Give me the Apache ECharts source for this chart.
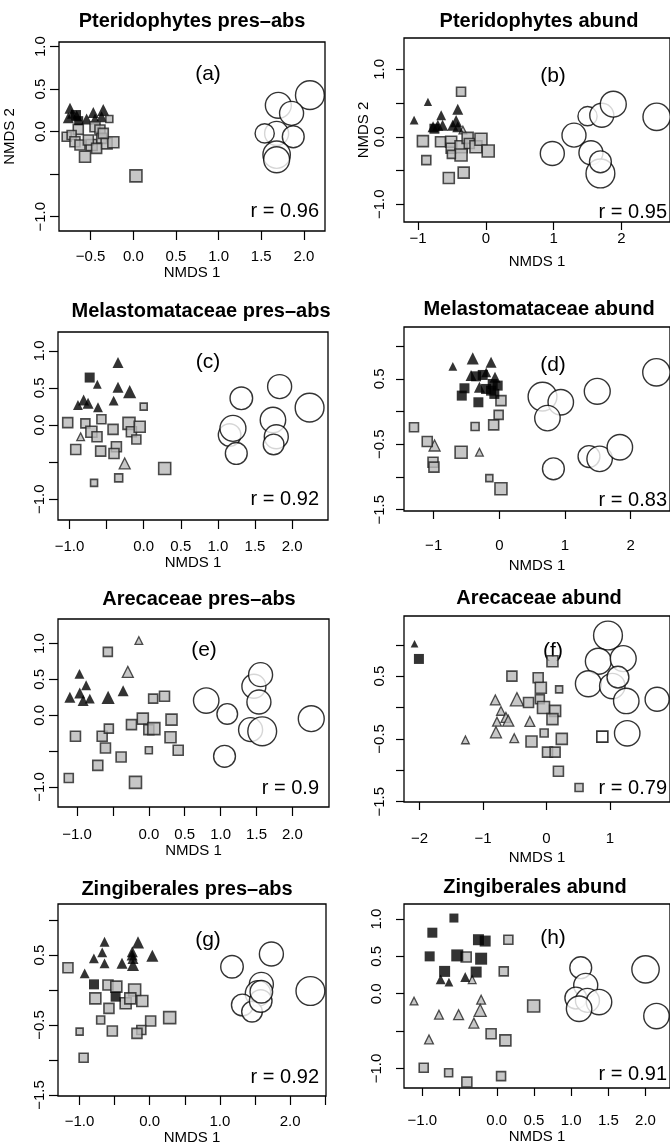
<!DOCTYPE html>
<html><head><meta charset="utf-8">
<script src="https://cdn.jsdelivr.net/npm/echarts@6/dist/echarts.min.js"></script>
<style>html,body{margin:0;padding:0;background:#fff;overflow:hidden}#c{width:670px;height:1147px}</style>
</head><body><div id="c"></div>
<script>
// ---------- DATA: [NMDS1, NMDS2, relative weight] ----------
// (a) Pteridophytes pres-abs
const a_triBlack = [[-0.742,0.275,1],[-0.469,0.227,1],[-0.352,0.255,1.1],[-0.762,0.165,1],[-0.664,0.188,1],[-0.547,0.149,1],[-0.449,0.149,1],[-0.371,0.176,1],[-0.72,0.21,0.9]];
const a_triGray = [];
const a_sqBlack = [[-0.672,0.196,1],[-0.64,0.13,0.9]];
const a_sqGray = [[-0.281,0.149,0.7],[-0.645,0.027,1],[-0.449,0.059,1],[-0.781,-0.059,0.9],[-0.723,-0.039,0.9],[-0.684,-0.118,1],[-0.625,-0.157,1],[-0.488,-0.157,1.1],[-0.527,-0.098,1],[-0.391,0.02,1],[-0.371,-0.078,1],[-0.313,-0.137,1.1],[-0.234,-0.125,1.1],[-0.566,-0.294,1.1],[-0.352,-0.02,1],[-0.43,-0.196,1],[0.031,-0.52,1.2]];
const a_sqOpen = [];
const a_circ = [[2.07,0.43,1.2],[1.70,0.31,1.08],[1.855,0.216,1.0],[1.68,-0.02,1.0],[1.54,-0.02,0.8],[1.875,-0.06,0.91],[1.68,-0.27,1.14],[1.68,-0.33,1.08]];

// (b) Pteridophytes abund
const b_triBlack = [[-0.856,0.519,0.75],[-1.06,0.247,0.8],[-0.66,0.32,0.9],[-0.416,0.41,1],[-0.44,0.232,1.1],[-0.78,0.148,1],[-0.71,0.17,1],[-0.64,0.17,1],[-0.49,0.17,1],[-0.416,0.148,1]];
const b_triGray = [[-0.34,0.1,0.7]];
const b_sqBlack = [[-0.76,0.12,1]];
const b_sqGray = [[-0.367,0.667,0.9],[-0.93,-0.064,1.1],[-0.67,-0.074,1],[-0.513,-0.074,1.1],[-0.513,-0.17,1],[-0.367,-0.148,1.2],[-0.27,-0.015,1.1],[-0.245,-0.1,1],[-0.147,-0.148,1.2],[-0.073,-0.035,1.2],[0.034,-0.21,1.2],[-0.367,-0.27,1.2],[-0.51,-0.26,0.8],[-0.88,-0.346,0.9],[-0.548,-0.61,1.1],[-0.328,-0.53,1.1]];
const b_sqOpen = [];
const b_circ = [[0.98,-0.247,1],[1.30,0.025,1],[1.50,0.306,0.8],[1.71,0.32,1],[1.88,0.484,1.08],[1.55,-0.237,1],[1.69,-0.543,1.2],[1.69,-0.37,0.91],[2.52,0.296,1.14]];

// (c) Melastomataceae pres-abs
const c_triBlack = [[-0.346,0.842,1],[-0.625,0.55,0.8],[-0.346,0.509,1],[-0.189,0.45,1.2],[-0.81,0.338,1],[-0.886,0.27,0.9],[-0.75,0.293,1],[-0.616,0.239,0.9],[-0.405,0.329,0.9]];
const c_triGray = [[-0.85,-0.158,0.7],[-0.256,-0.518,1]];
const c_sqBlack = [[-0.728,0.64,1]];
const c_sqGray = [[0.0,0.248,0.7],[-1.024,0.032,1],[-0.786,0.023,0.9],[-0.57,0.077,0.9],[-0.705,-0.09,1.1],[-0.629,-0.158,1],[-0.413,-0.059,1],[-0.198,0.023,1.2],[-0.166,-0.09,1],[-0.054,-0.023,1.1],[-0.099,-0.194,0.9],[-0.916,-0.329,1],[-0.58,-0.351,1],[-0.368,-0.293,1],[-0.4,-0.383,1],[0.283,-0.586,1.2],[-0.669,-0.78,0.7],[-0.337,-0.712,0.8]];
const c_sqOpen = [];
const c_circ = [[1.316,0.36,0.94],[1.832,0.518,1],[2.236,0.234,1.2],[1.742,0.068,1.06],[1.158,-0.135,0.94],[1.203,-0.045,1.08],[1.248,-0.383,0.91],[1.787,-0.158,1],[1.751,-0.261,0.86]];

// (d) Melastomataceae abund
const d_triBlack = [[-0.708,0.692,0.8],[-0.405,0.814,1.1],[-0.126,0.753,1],[-0.43,0.55,1],[-0.303,0.372,1],[-0.066,0.524,1],[-0.2,0.6,0.9]];
const d_triGray = [[-0.986,-0.519,1],[-0.303,-0.621,0.7]];
const d_sqBlack = [[-0.253,0.56,1],[-0.354,0.539,1],[-0.531,0.356,1],[-0.572,0.244,1],[-0.319,0.142,1],[-0.101,0.422,1],[-0.025,0.397,1],[-0.126,0.32,1],[-0.076,0.27,1],[-0.202,0.346,1]];
const d_sqGray = [[0.025,0.168,1],[-0.01,-0.05,0.9],[-0.086,-0.204,1],[-0.369,-0.229,0.8],[-1.3,-0.239,0.9],[-1.098,-0.458,1],[-0.582,-0.621,1.2],[-1.01,-0.774,1],[-0.996,-0.85,1],[-0.152,-1.018,0.7],[0.025,-1.18,1.2]];
const d_sqOpen = [];
const d_circ = [[0.658,0.229,1.2],[0.936,0.142,1.06],[0.733,-0.1,1.06],[1.492,0.31,1.08],[2.393,0.6,1.14],[0.824,-0.875,0.91],[1.366,-0.687,0.91],[1.528,-0.723,1.06],[1.836,-0.545,1.06]];

// (e) Arecaceae pres-abs
const e_triBlack = [[-0.966,0.577,0.9],[-0.873,0.419,0.9],[-0.962,0.312,1],[-1.1,0.251,1],[-0.915,0.205,1],[-0.822,0.233,0.9],[-0.567,0.251,1.2],[-0.358,0.344,1]];
const e_triGray = [[-0.139,1.042,0.7],[-0.293,0.605,1]];
const e_sqBlack = [];
const e_sqGray = [[-0.571,0.884,0.9],[0.06,0.233,0.9],[0.218,0.265,1],[-0.084,-0.047,1.1],[-0.242,-0.13,1],[0,-0.2,1],[0.07,-0.186,1.2],[0.316,-0.06,1.1],[0.302,-0.307,1.1],[0.409,-0.488,1],[0,-0.488,0.7],[-1.022,-0.293,1],[-0.65,-0.293,1],[-0.557,-0.186,0.9],[-0.604,-0.456,1],[-0.386,-0.581,1],[-0.711,-0.698,1],[-1.115,-0.874,0.9],[-0.186,-0.935,1.2]];
const e_sqOpen = [];
const e_circ = [[0.799,0.205,1.06],[1.092,0.019,0.86],[1.463,0.405,1],[1.556,0.567,1],[1.533,0.186,1],[1.417,-0.2,1],[1.579,-0.223,1.2],[1.054,-0.572,0.91],[2.262,-0.047,1.08]];

// (f) Arecaceae abund
const f_triBlack = [[-2.079,1.016,0.7]];
const f_triGray = [[-0.806,0.121,0.9],[-0.466,0.132,1.2],[-0.717,-0.053,0.8],[-0.78,-0.226,0.8],[-0.639,-0.158,0.9],[-0.602,-0.21,1],[-0.796,-0.395,1],[-0.508,-0.489,0.8],[-0.262,-0.221,0.9],[-1.277,-0.516,0.7]];
const f_sqBlack = [[-2.01,0.774,1]];
const f_sqGray = [[0.094,0.737,1.1],[-0.545,0.5,1],[-0.131,0.474,1],[-0.089,0.316,1.1],[0.199,0.289,0.7],[-0.105,0.132,0.9],[-0.283,0.079,1],[-0.047,0,1.2],[0.136,-0.053,1.1],[0.094,-0.184,1.1],[-0.037,-0.405,0.8],[-0.236,-0.542,1.1],[0.241,-0.5,1.1],[0.016,-0.711,1],[0.136,-0.711,1],[0.188,-1.016,1],[0.513,-1.274,0.8]];
const f_sqOpen = [[0.88,-0.463,1.1]];
const f_circ = [[0.969,1.147,1.2],[0.817,0.737,1.08],[1.209,0.779,1.08],[0.66,0.379,1.08],[1.037,0.342,1.06],[1.126,0.484,0.91],[1.257,0.105,1.06],[1.743,0.132,1],[1.272,-0.411,1.06]];

// (g) Zingiberales pres-abs
const g_triBlack = [[-0.643,0.69,0.9],[-0.676,0.538,0.9],[-0.795,0.452,0.9],[-0.643,0.381,0.9],[-0.926,0.238,0.9],[-0.394,0.381,1],[-0.166,0.681,1.1],[-0.247,0.548,1],[-0.25,0.5,1],[-0.238,0.452,1],[-0.238,0.357,1.1],[0.038,0.49,1.1]];
const g_triGray = [];
const g_sqBlack = [[-0.793,0.081,1],[-0.485,-0.095,1]];
const g_sqGray = [[-1.164,0.319,1],[-0.594,0.071,1],[-0.475,0.048,1.1],[-0.214,0,1.2],[-0.774,-0.119,1.1],[-0.342,-0.19,1.1],[-0.276,-0.119,1.1],[-0.105,-0.157,1.1],[-0.58,-0.262,1],[-0.698,-0.429,0.8],[-0.532,-0.586,1],[0.014,-0.443,1],[0.285,-0.395,1.2],[-0.119,-0.571,0.9],[-0.181,-0.619,1],[-0.998,-0.595,0.7],[-0.941,-0.967,0.9]];
const g_sqOpen = [];
const g_circ = [[1.173,0.333,0.94],[1.734,0.514,1],[1.591,0.081,1],[1.544,-0.048,1.06],[1.321,-0.214,0.91],[1.458,-0.31,0.86],[1.582,-0.157,0.94],[1.591,-0.024,0.94],[2.29,-0.014,1.2]];

// (h) Zingiberales abund
const h_triBlack = [[-0.754,0.192,0.9],[-0.643,0.156,0.8],[-0.424,0.223,0.9]];
const h_triGray = [[-1.112,-0.098,0.7],[-0.21,-0.08,0.8],[-0.33,0.188,0.7],[-0.777,-0.281,0.8],[-0.513,-0.281,0.9],[-0.223,-0.223,1.1],[-0.308,-0.393,0.9],[-0.911,-0.612,0.8]];
const h_sqBlack = [[-0.576,1.013,0.9],[-0.866,0.817,1],[-0.902,0.5,1],[-0.531,0.513,1.2],[-0.246,0.723,1.1],[-0.156,0.705,1.1],[-0.21,0.469,1.2],[-0.701,0.299,1.1],[-0.277,0.29,1.1]];
const h_sqGray = [[-0.411,0.491,1],[0.156,0.723,0.9],[0.094,0.299,0.9],[0.496,-0.165,1.2],[-0.076,-0.536,1],[0.116,-0.625,1.1],[-0.982,-0.991,0.9],[-0.647,-1.058,0.8],[-0.402,-1.183,1],[0.058,-1.103,0.9]];
const h_sqOpen = [];
const h_circ = [[1.129,0.348,0.91],[2.0,0.326,1.14],[1.196,0.112,1],[1.063,-0.058,0.91],[1.219,-0.089,1],[1.375,-0.112,1.06],[1.107,-0.201,1.06],[2.147,-0.299,1.06]];

// ---------- TEXT / TICKS ----------
const panelTitles = ['Pteridophytes pres\u2013abs','Pteridophytes abund','Melastomataceae pres\u2013abs','Melastomataceae abund','Arecaceae pres\u2013abs','Arecaceae abund','Zingiberales pres\u2013abs','Zingiberales abund'];
const panelLetters = ['(a)','(b)','(c)','(d)','(e)','(f)','(g)','(h)'];
const rValues = ['0.96','0.95','0.92','0.83','0.9','0.79','0.92','0.91'];
const xTicks = [[-0.5,0,0.5,1,1.5,2],[-1,0,1,2],[-1,-0.5,0,0.5,1,1.5,2],[-1,0,1,2],[-1,-0.5,0,0.5,1,1.5,2],[-2,-1,0,1],[-1,-0.5,0,0.5,1,1.5,2,2.5],[-1,-0.5,0,0.5,1,1.5,2]];
const xTickLabels = [[-0.5,0,0.5,1,1.5,2],[-1,0,1,2],[-1,0,0.5,1,1.5,2],[-1,0,1,2],[-1,0,0.5,1,1.5,2],[-2,-1,0,1],[-1,0,1,2],[-1,0,0.5,1,1.5,2]];
const yTicks = [[-1,-0.5,0,0.5,1],[-1,-0.5,0,0.5,1],[-1,-0.5,0,0.5,1],[-1.5,-1,-0.5,0,0.5,1],[-1,-0.5,0,0.5,1],[-1.5,-1,-0.5,0,0.5,1],[-1.5,-1,-0.5,0,0.5,1],[-1,-0.5,0,0.5,1]];
const yTickLabels = [[-1,0,0.5,1],[-1,0,1],[-1,0,0.5,1],[-1.5,-0.5,0.5],[-1,0,0.5,1],[-1.5,-0.5,0.5],[-1.5,-0.5,0.5],[-1,0,0.5,1]];
const xIntegerLabels = [false,true,false,true,false,true,false,false];
const yAxisNames = ['NMDS 2','NMDS 2','','','','','',''];
const xAxisName = 'NMDS 1';

const panelData = [
  [a_triGray,a_triBlack,a_sqGray,a_sqBlack,a_sqOpen,a_circ],
  [b_triGray,b_triBlack,b_sqGray,b_sqBlack,b_sqOpen,b_circ],
  [c_triGray,c_triBlack,c_sqGray,c_sqBlack,c_sqOpen,c_circ],
  [d_triGray,d_triBlack,d_sqGray,d_sqBlack,d_sqOpen,d_circ],
  [e_triGray,e_triBlack,e_sqGray,e_sqBlack,e_sqOpen,e_circ],
  [f_triGray,f_triBlack,f_sqGray,f_sqBlack,f_sqOpen,f_circ],
  [g_triGray,g_triBlack,g_sqGray,g_sqBlack,g_sqOpen,g_circ],
  [h_triGray,h_triBlack,h_sqGray,h_sqBlack,h_sqOpen,h_circ]
];

// ---------- LAYOUT (pixels / axis extents) ----------
const layout = [
  {l:59, t:42, w:266,h:189, xr:[-0.871,2.247], yr:[-1.168,1.055], xm:18, xn:32, ym:11, yn:42, tk:9, title:[192,21], letter:[208,74], r:[319,211]},
  {l:404,t:38, w:267,h:184, xr:[-1.209,2.717], yr:[-1.262,1.464], xm:9,  xn:32, ym:17, yn:32, tk:8, title:[539,21], letter:[553,76], r:[667,212]},
  {l:58, t:332,w:270,h:188, xr:[-1.155,2.484], yr:[-1.28,1.254],  xm:19, xn:32, ym:11, yn:42, tk:9, title:[201,311], letter:[208,362], r:[319,499]},
  {l:404,t:327,w:267,h:184, xr:[-1.452,2.6],   yr:[-1.52,1.293],  xm:27, xn:47, ym:17, yn:32, tk:8, title:[539,309], letter:[553,365], r:[667,500]},
  {l:58, t:619,w:271,h:188, xr:[-1.265,2.509], yr:[-1.279,1.343], xm:20, xn:33, ym:11, yn:42, tk:9, title:[199,599], letter:[204,650], r:[319,788]},
  {l:404,t:616,w:267,h:186, xr:[-2.245,1.946], yr:[-1.505,1.458], xm:29, xn:48, ym:17, yn:32, tk:8, title:[539,598], letter:[553,651], r:[667,788]},
  {l:58, t:904,w:268,h:192, xr:[-1.306,2.512], yr:[-1.514,1.229], xm:18, xn:33, ym:11, yn:42, tk:9, title:[187,889], letter:[208,940], r:[319,1077]},
  {l:404,t:904,w:267,h:184, xr:[-1.247,2.329], yr:[-1.262,1.201], xm:25, xn:38, ym:20, yn:32, tk:8, title:[535,887], letter:[553,938], r:[667,1074]}
];

const FONT = '"Liberation Sans", Arial, Helvetica, sans-serif';
const GRAY = '#b9b9b9';
const EDGE = '#222';
const BASE = {tri: 11, sq: 10, circ: 24};
const groupStyles = [
  {symbol:'triangle', base:BASE.tri, style:{color:GRAY, borderColor:EDGE, borderWidth:1.3}},
  {symbol:'triangle', base:BASE.tri, style:{color:'#000', borderWidth:0}},
  {symbol:'rect',     base:BASE.sq,  style:{color:GRAY, borderColor:EDGE, borderWidth:1.6}},
  {symbol:'rect',     base:BASE.sq,  style:{color:'#000', borderWidth:0}},
  {symbol:'rect',     base:BASE.sq,  style:{color:'#fff', borderColor:'#000', borderWidth:1.6}},
  {symbol:'circle',   base:BASE.circ,style:{color:'#fff', borderColor:'#000', borderWidth:1.4}}
];

function fmt(v, asInt) {
  const s = asInt ? String(Math.round(v)) : v.toFixed(1);
  return s.replace('-', '\u2212');
}

const grid = [], xAxis = [], yAxis = [], series = [], graphic = [];
layout.forEach((p, i) => {
  grid.push({left:p.l, top:p.t, width:p.w, height:p.h, show:true, borderColor:'#000', borderWidth:1.3, backgroundColor:'transparent'});
  xAxis.push({
    type:'value', gridIndex:i, min:p.xr[0], max:p.xr[1], position:'bottom',
    axisLine:{show:false, onZero:false}, splitLine:{show:false},
    axisTick:{show:true, length:p.tk, customValues:xTicks[i], lineStyle:{color:'#000', width:1.2}},
    axisLabel:{customValues:xTickLabels[i], formatter:v => fmt(v, xIntegerLabels[i]), margin:p.xm, fontSize:15, color:'#000', fontFamily:FONT},
    name:xAxisName, nameLocation:'middle', nameGap:p.xn,
    nameTextStyle:{fontSize:15, color:'#000', fontFamily:FONT}
  });
  yAxis.push({
    type:'value', gridIndex:i, min:p.yr[0], max:p.yr[1], position:'left',
    axisLine:{show:false, onZero:false}, splitLine:{show:false},
    axisTick:{show:true, length:p.tk, customValues:yTicks[i], lineStyle:{color:'#000', width:1.2}},
    axisLabel:{customValues:yTickLabels[i], formatter:v => fmt(v, false), rotate:90, margin:p.ym, fontSize:15, color:'#000', fontFamily:FONT},
    name:yAxisNames[i], nameLocation:'middle', nameGap:p.yn,
    nameTextStyle:{fontSize:15, color:'#000', fontFamily:FONT}
  });
  panelData[i].forEach((data, k) => {
    if (!data.length) return;
    const g = groupStyles[k];
    series.push({
      type:'scatter', xAxisIndex:i, yAxisIndex:i, data:data,
      symbol:g.symbol, symbolSize: (d => d[2] * g.base),
      itemStyle:g.style, z: 2 + k, silent:true, animation:false, clip:false
    });
  });
  graphic.push({type:'text', x:p.title[0], y:p.title[1], style:{text:panelTitles[i], textAlign:'center', textVerticalAlign:'middle', font:'bold 20px ' + FONT, fill:'#000'}});
  graphic.push({type:'text', x:p.letter[0], y:p.letter[1], style:{text:panelLetters[i], textAlign:'center', textVerticalAlign:'middle', font:'21px ' + FONT, fill:'#000'}});
  graphic.push({type:'text', x:p.r[0], y:p.r[1], style:{text:'r = ' + rValues[i], textAlign:'right', textVerticalAlign:'middle', font:'20px ' + FONT, fill:'#000'}});
});

const chart = echarts.init(document.getElementById('c'), null, {renderer:'canvas', width:670, height:1147});
chart.setOption({animation:false, backgroundColor:'#fff', grid, xAxis, yAxis, series, graphic});
</script>
</body></html>
